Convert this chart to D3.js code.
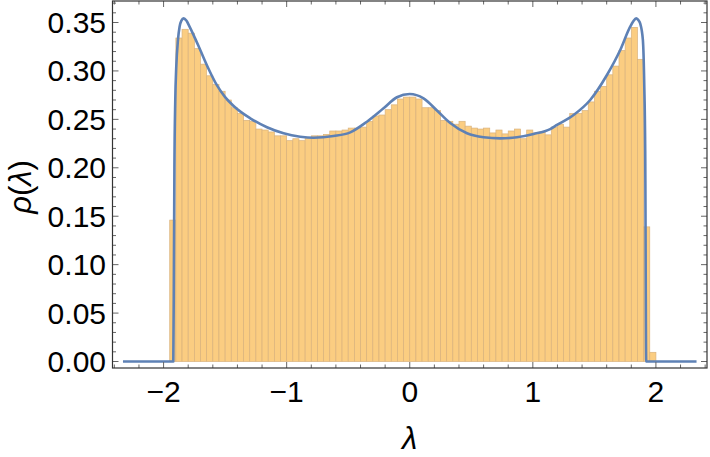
<!DOCTYPE html>
<html><head><meta charset="utf-8">
<script src="https://cdn.jsdelivr.net/npm/d3@7/dist/d3.min.js"></script>
<style>
body{margin:0;background:#fff}
svg{display:block}
text{font-family:"Liberation Sans",Arial,sans-serif;fill:#000}
</style>
</head><body>
<svg id="chart" width="710" height="457"></svg>
<script>
// Histogram: bins of width 0.05 starting at -1.95
const binStart = -1.95;
const binWidth = 0.05;
const density = [
  0.146, 0.334, 0.343, 0.339, 0.323, 0.307, 0.295, 0.286, 0.279, 0.270,
  0.262, 0.256, 0.249, 0.248, 0.240, 0.239, 0.237, 0.233, 0.233, 0.228,
  0.230, 0.228, 0.231, 0.233, 0.233, 0.2345, 0.238, 0.238, 0.239, 0.241,
  0.241, 0.242, 0.248, 0.2535, 0.2545, 0.260, 0.265, 0.271, 0.273, 0.273,
  0.271, 0.262, 0.262, 0.259, 0.249, 0.248, 0.245, 0.248, 0.243, 0.241,
  0.240, 0.241, 0.236, 0.239, 0.235, 0.238, 0.240, 0.230, 0.239, 0.236,
  0.237, 0.234, 0.242, 0.245, 0.242, 0.256, 0.256, 0.259, 0.268, 0.279,
  0.284, 0.296, 0.305, 0.321, 0.334, 0.345, 0.312, 0.139, 0.0095
];

// Theoretical density curve
const curveLambda = [
  -2.33, -1.921, -1.916, -1.912, -1.905, -1.897, -1.883, -1.870, -1.855, -1.837,
  -1.815, -1.790, -1.756, -1.702, -1.634, -1.566, -1.50, -1.431, -1.296, -1.160,
  -1.025, -0.890, -0.781, -0.619, -0.483, -0.348, -0.213, -0.104, 0, 0.112,
  0.221, 0.329, 0.465, 0.600, 0.735, 0.871, 1.006, 1.141, 1.196, 1.331,
  1.466, 1.602, 1.710, 1.791, 1.815, 1.840, 1.860, 1.872, 1.894, 1.905,
  1.913, 1.921, 2.33
];
const curveRho = [
  0, 0, 0.10, 0.20, 0.27, 0.304, 0.332, 0.3457, 0.352, 0.3543,
  0.352, 0.346, 0.337, 0.3216, 0.302, 0.285, 0.273, 0.2638, 0.2511, 0.2418,
  0.2356, 0.2321, 0.231, 0.2328, 0.2366, 0.2476, 0.2614, 0.2728, 0.2762, 0.2717,
  0.2592, 0.2462, 0.2356, 0.2315, 0.2304, 0.2315, 0.2349, 0.2400, 0.2442, 0.2545,
  0.270, 0.2958, 0.3216, 0.3457, 0.351, 0.3543, 0.352, 0.349, 0.332, 0.287,
  0.218, 0, 0
];

const xTickValues = [-2, -1, 0, 1, 2];
const xTickLabels = ["\u22122", "\u22121", "0", "1", "2"];
const yTickValues = [0, 0.05, 0.10, 0.15, 0.20, 0.25, 0.30, 0.35];
const yTickLabels = ["0.00", "0.05", "0.10", "0.15", "0.20", "0.25", "0.30", "0.35"];

(function () {
const svg = d3.select("#chart");
const pLeft = 112.5, pRight = 707, pTop = 1, pBottom = 368;

const x = d3.scaleLinear().domain([-2.415, 2.415]).range([pLeft, pRight]);
const y = d3.scaleLinear().domain([-0.0067, 0.3722]).range([pBottom, pTop]);

// bars
const bins = density.map((v, i) => ({x0: binStart + i * binWidth, x1: binStart + (i + 1) * binWidth, v}));
svg.append("g").selectAll("rect").data(bins).join("rect")
  .attr("x", d => x(d.x0))
  .attr("width", d => x(d.x1) - x(d.x0))
  .attr("y", d => y(d.v))
  .attr("height", d => y(0) - y(d.v))
  .attr("fill", "#fbcd81")
  .attr("stroke", "#d9b27c")
  .attr("stroke-width", 0.7);

// curve
const pts = curveLambda.map((l, i) => [l, curveRho[i]]);
svg.append("path")
  .datum(pts)
  .attr("fill", "none")
  .attr("stroke", "#5e81b5")
  .attr("stroke-width", 2.6)
  .attr("stroke-linejoin", "round")
  .attr("d", d3.line().x(d => x(d[0])).y(d => y(d[1])).curve(d3.curveMonotoneX));

// frame & ticks
const majLen = 6, minLen = 3.5;
const tickCol = "#666";
const frame = svg.append("g");
const xMinor = d3.range(-12, 13).map(i => i * 0.2).filter(v => Math.abs(v - Math.round(v)) > 1e-6);
const yMinor = d3.range(0, 38).map(i => i / 100).filter(v => Math.abs(v * 20 - Math.round(v * 20)) > 1e-6);

function xTicks(vals, len) {
  vals.forEach(v => {
    frame.append("line").attr("x1", x(v)).attr("x2", x(v)).attr("y1", pBottom).attr("y2", pBottom - len)
      .attr("stroke", tickCol).attr("stroke-width", 1);
    frame.append("line").attr("x1", x(v)).attr("x2", x(v)).attr("y1", pTop).attr("y2", pTop + len)
      .attr("stroke", tickCol).attr("stroke-width", 1);
  });
}
function yTicks(vals, len) {
  vals.forEach(v => {
    frame.append("line").attr("y1", y(v)).attr("y2", y(v)).attr("x1", pLeft).attr("x2", pLeft + len)
      .attr("stroke", tickCol).attr("stroke-width", 1);
    frame.append("line").attr("y1", y(v)).attr("y2", y(v)).attr("x1", pRight).attr("x2", pRight - len)
      .attr("stroke", tickCol).attr("stroke-width", 1);
  });
}
xTicks(xTickValues, majLen);
xTicks(xMinor, minLen);
yTicks(yTickValues, majLen);
yTicks(yMinor, minLen);

frame.append("rect").attr("x", pLeft).attr("y", pTop).attr("width", pRight - pLeft).attr("height", pBottom - pTop)
  .attr("fill", "none").attr("stroke", "#333").attr("stroke-width", 1.2);

// tick labels
svg.append("g").selectAll("text").data(xTickValues).join("text")
  .attr("x", d => x(d)).attr("y", 402)
  .attr("text-anchor", "middle").attr("font-size", 30)
  .text((d, i) => xTickLabels[i]);
svg.append("g").selectAll("text").data(yTickValues).join("text")
  .attr("x", 106).attr("y", d => y(d)).attr("dy", "0.35em")
  .attr("text-anchor", "end").attr("font-size", 30)
  .text((d, i) => yTickLabels[i]);

// axis titles
svg.append("text").attr("x", x(0)).attr("y", 449).attr("text-anchor", "middle")
  .attr("font-size", 31).attr("font-style", "italic").text("\u03bb");
const yt = svg.append("text").attr("transform", "translate(31,187) rotate(-90)")
  .attr("text-anchor", "middle").attr("font-size", 31);
yt.append("tspan").attr("font-style", "italic").text("\u03c1");
yt.append("tspan").text("(");
yt.append("tspan").attr("font-style", "italic").text("\u03bb");
yt.append("tspan").text(")");
})();
</script>
</body></html>
